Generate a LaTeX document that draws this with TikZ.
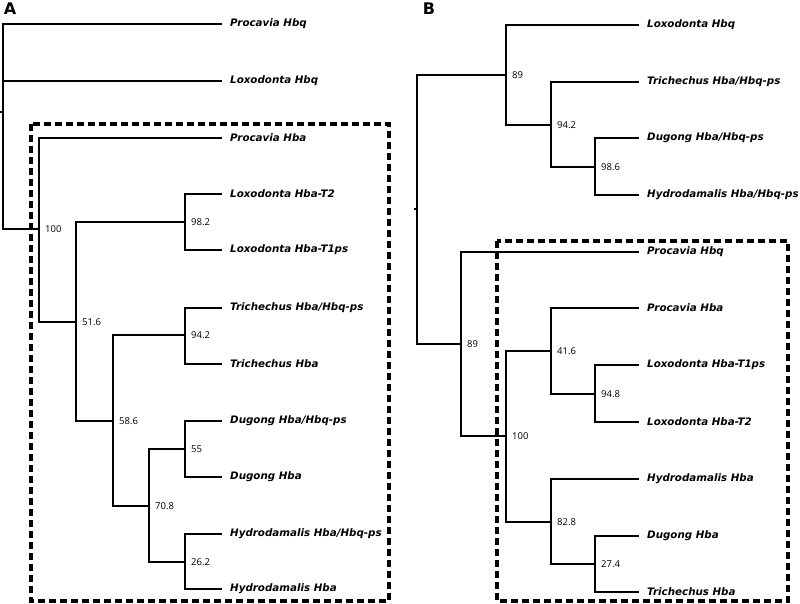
\documentclass[tikz,border=0pt]{standalone}
\usepackage{fontspec}
\setmainfont{DejaVu Sans}
\newfontfamily\bootfont{Open Sans}
\usepackage{tikz}
\usetikzlibrary{positioning}

\begin{document}
\begin{tikzpicture}[x=1pt, y=-1pt,
  branch/.style={line width=2.7pt, line join=miter},
  leaf/.style={anchor=west, inner xsep=8pt, inner ysep=0pt, font=\fontsize{10.3}{12}\selectfont\bfseries\itshape},
  boot/.style={inner sep=1pt, font=\bootfont\fontsize{9.5}{11}\selectfont},
  clade/.style={line width=3.2pt, dash pattern=on 7pt off 4pt},
  panel/.style={font=\fontsize{16}{18}\selectfont\bfseries}]
  \useasboundingbox (0,0) rectangle (800,604);
  % Panel labels
  \node[panel] (pA) at (10,9) {A};
  \node[panel] (pB) at (429,9) {B};

  % ---- Tree A ----
  % Internal nodes
  \coordinate (aStub) at (0,112);
  \coordinate (aRoot) at (3,112);
  \coordinate (aN100) at (39,229);
  \coordinate (aN516) at (76,322);
  \coordinate (aN982) at (185,222);
  \coordinate (aN586) at (113,421);
  \coordinate (aN942) at (185,335);
  \coordinate (aN708) at (149,506);
  \coordinate (aN55) at (185,449);
  \coordinate (aN262) at (185,562);
  % Leaves
  \node[leaf] (aPhq) at (222,24) {Procavia Hbq};
  \node[leaf] (aLhq) at (222,81) {Loxodonta Hbq};
  \node[leaf] (aPha) at (222,138) {Procavia Hba};
  \node[leaf] (aLT2) at (222,194) {Loxodonta Hba-T2};
  \node[leaf] (aLT1) at (222,250) {Loxodonta Hba-T1ps};
  \node[leaf] (aTHH) at (222,308) {Trichechus Hba/Hbq-ps};
  \node[leaf] (aTH) at (222,364) {Trichechus Hba};
  \node[leaf] (aDHH) at (222,421) {Dugong Hba/Hbq-ps};
  \node[leaf] (aDH) at (222,477) {Dugong Hba};
  \node[leaf] (aHHH) at (222,534) {Hydrodamalis Hba/Hbq-ps};
  \node[leaf] (aHH) at (222,589) {Hydrodamalis Hba};
  % Branches
  \draw[branch] (aStub) -- (aRoot);
  \draw[branch] (aRoot) |- (aPhq.west);
  \draw[branch] (aRoot) |- (aLhq.west);
  \draw[branch] (aRoot) |- (aN100);
  \draw[branch] (aN100) |- (aPha.west);
  \draw[branch] (aN100) |- (aN516);
  \draw[branch] (aN516) |- (aN982);
  \draw[branch] (aN516) |- (aN586);
  \draw[branch] (aN982) |- (aLT2.west);
  \draw[branch] (aN982) |- (aLT1.west);
  \draw[branch] (aN586) |- (aN942);
  \draw[branch] (aN586) |- (aN708);
  \draw[branch] (aN942) |- (aTHH.west);
  \draw[branch] (aN942) |- (aTH.west);
  \draw[branch] (aN708) |- (aN55);
  \draw[branch] (aN708) |- (aN262);
  \draw[branch] (aN55) |- (aDHH.west);
  \draw[branch] (aN55) |- (aDH.west);
  \draw[branch] (aN262) |- (aHHH.west);
  \draw[branch] (aN262) |- (aHH.west);
  % Support values
  \node[boot, right=5pt of aN100] (laN100) {100};
  \node[boot, right=5pt of aN516] (laN516) {51.6};
  \node[boot, right=5pt of aN982] (laN982) {98.2};
  \node[boot, right=5pt of aN586] (laN586) {58.6};
  \node[boot, right=5pt of aN942] (laN942) {94.2};
  \node[boot, right=5pt of aN708] (laN708) {70.8};
  \node[boot, right=5pt of aN55] (laN55) {55};
  \node[boot, right=5pt of aN262] (laN262) {26.2};
  % Clade box
  \draw[clade] (31,124) rectangle (389,601);

  % ---- Tree B ----
  % Internal nodes
  \coordinate (bStub) at (414,209);
  \coordinate (bRoot) at (417,209);
  \coordinate (bN89u) at (506,75);
  \coordinate (bN942) at (551,125);
  \coordinate (bN986) at (595,167);
  \coordinate (bN89l) at (461,344);
  \coordinate (bN100) at (506,436);
  \coordinate (bN416) at (551,351);
  \coordinate (bN948) at (595,394);
  \coordinate (bN828) at (551,522);
  \coordinate (bN274) at (595,564);
  % Leaves
  \node[leaf] (bLhq) at (639,25) {Loxodonta Hbq};
  \node[leaf] (bTHH) at (639,82) {Trichechus Hba/Hbq-ps};
  \node[leaf] (bDHH) at (639,138) {Dugong Hba/Hbq-ps};
  \node[leaf] (bHHH) at (639,195) {Hydrodamalis Hba/Hbq-ps};
  \node[leaf] (bPhq) at (639,252) {Procavia Hbq};
  \node[leaf] (bPha) at (639,308) {Procavia Hba};
  \node[leaf] (bLT1) at (639,365) {Loxodonta Hba-T1ps};
  \node[leaf] (bLT2) at (639,422) {Loxodonta Hba-T2};
  \node[leaf] (bHH) at (639,479) {Hydrodamalis Hba};
  \node[leaf] (bDH) at (639,536) {Dugong Hba};
  \node[leaf] (bTH) at (639,592) {Trichechus Hba};
  % Branches
  \draw[branch] (bStub) -- (bRoot);
  \draw[branch] (bRoot) |- (bN89u);
  \draw[branch] (bRoot) |- (bN89l);
  \draw[branch] (bN89u) |- (bLhq.west);
  \draw[branch] (bN89u) |- (bN942);
  \draw[branch] (bN942) |- (bTHH.west);
  \draw[branch] (bN942) |- (bN986);
  \draw[branch] (bN986) |- (bDHH.west);
  \draw[branch] (bN986) |- (bHHH.west);
  \draw[branch] (bN89l) |- (bPhq.west);
  \draw[branch] (bN89l) |- (bN100);
  \draw[branch] (bN100) |- (bN416);
  \draw[branch] (bN100) |- (bN828);
  \draw[branch] (bN416) |- (bPha.west);
  \draw[branch] (bN416) |- (bN948);
  \draw[branch] (bN948) |- (bLT1.west);
  \draw[branch] (bN948) |- (bLT2.west);
  \draw[branch] (bN828) |- (bHH.west);
  \draw[branch] (bN828) |- (bN274);
  \draw[branch] (bN274) |- (bDH.west);
  \draw[branch] (bN274) |- (bTH.west);
  % Support values
  \node[boot, right=5pt of bN89u] (lbN89u) {89};
  \node[boot, right=5pt of bN942] (lbN942) {94.2};
  \node[boot, right=5pt of bN986] (lbN986) {98.6};
  \node[boot, right=5pt of bN89l] (lbN89l) {89};
  \node[boot, right=5pt of bN100] (lbN100) {100};
  \node[boot, right=5pt of bN416] (lbN416) {41.6};
  \node[boot, right=5pt of bN948] (lbN948) {94.8};
  \node[boot, right=5pt of bN828] (lbN828) {82.8};
  \node[boot, right=5pt of bN274] (lbN274) {27.4};
  % Clade box
  \draw[clade] (497,241) rectangle (788,601);
\end{tikzpicture}
\end{document}
